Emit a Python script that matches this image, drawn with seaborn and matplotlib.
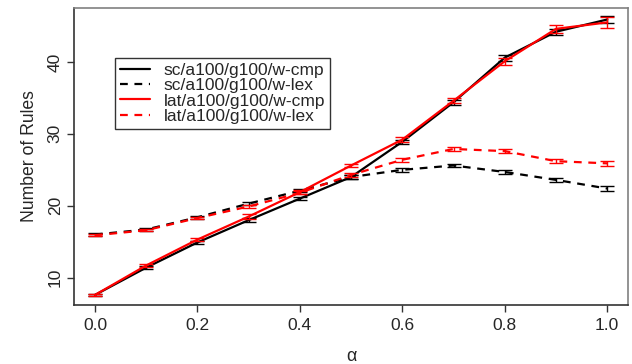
import matplotlib
matplotlib.use("Agg")
import matplotlib.pyplot as plt
import seaborn as sns
import pandas as pd
import numpy as np

alpha = [0.0, 0.1, 0.2, 0.3, 0.4, 0.5, 0.6, 0.7, 0.8, 0.9, 1.0]
sc_cmp = [7.6, 11.4, 14.9, 18.0, 21.0, 24.0, 28.9, 34.4, 40.6, 44.2, 45.9]
sc_lex = [16.0, 16.7, 18.4, 20.3, 22.1, 24.0, 25.0, 25.6, 24.7, 23.6, 22.4]
lat_cmp = [7.6, 11.7, 15.3, 18.5, 21.9, 25.6, 29.2, 34.6, 40.1, 44.6, 45.5]
lat_lex = [15.9, 16.6, 18.3, 19.9, 21.8, 24.3, 26.4, 27.9, 27.6, 26.2, 25.9]
err_sc_cmp = [0.15, 0.2, 0.25, 0.25, 0.25, 0.3, 0.3, 0.35, 0.4, 0.45, 0.55]
err_sc_lex = [0.15, 0.15, 0.2, 0.25, 0.25, 0.25, 0.25, 0.2, 0.25, 0.25, 0.3]
err_lat_cmp = [0.15, 0.25, 0.25, 0.3, 0.25, 0.25, 0.3, 0.35, 0.5, 0.55, 0.8]
err_lat_lex = [0.15, 0.15, 0.2, 0.25, 0.2, 0.25, 0.3, 0.25, 0.3, 0.3, 0.35]
names = ["sc/a100/g100/w-cmp", "sc/a100/g100/w-lex",
         "lat/a100/g100/w-cmp", "lat/a100/g100/w-lex"]
xticks = [0.0, 0.2, 0.4, 0.6, 0.8, 1.0]
yticks = [10, 20, 30, 40]

sns.set_style("white")
plt.rcParams['font.family'] = ['Liberation Sans', 'DejaVu Sans']

series = [sc_cmp, sc_lex, lat_cmp, lat_lex]
errs = [err_sc_cmp, err_sc_lex, err_lat_cmp, err_lat_lex]
colors = ["black", "black", "#ff0000", "#ff0000"]
styles = ["-", (0, (3.5, 3)), "-", (0, (3.5, 3))]

df = pd.DataFrame({
    "alpha": alpha * 4,
    "value": sc_cmp + sc_lex + lat_cmp + lat_lex,
    "series": sum([[n] * len(alpha) for n in names], []),
})

fig = plt.figure(figsize=(6.32, 3.64), dpi=100)
ax = fig.add_axes([0.117, 0.162, 0.877, 0.816])

for n, y, e, c, ls in zip(names, series, errs, colors, styles):
    sub = df[df["series"] == n]
    sns.lineplot(data=sub, x="alpha", y="value", ax=ax, color=c,
                 linestyle=ls, linewidth=1.6, label=n)
    ax.errorbar(alpha, y, yerr=e, fmt="none", ecolor=c, elinewidth=1.0,
                capsize=5, capthick=1.0)

ax.set_xlim(-0.041, 1.041)
ax.set_ylim(6.2, 47.5)
ax.set_xticks(xticks)
ax.set_xticklabels([f"{t:.1f}" for t in xticks], fontsize=12.5)
ax.set_yticks(yticks)
ax.set_yticklabels([str(t) for t in yticks], fontsize=12.5, rotation=90, va="center")
ax.tick_params(axis="both", direction="out", length=5, width=1, color="#333333",
               bottom=True, left=True, pad=4)
ax.tick_params(axis="y", pad=3)
ax.set_xlabel("α", fontsize=13, labelpad=11)
ax.set_ylabel("Number of Rules", fontsize=12.7, labelpad=7)
for s in ["top", "right"]:
    ax.spines[s].set_color("#808080")
    ax.spines[s].set_linewidth(1.2)
for s in ["bottom", "left"]:
    ax.spines[s].set_color("#333333")
    ax.spines[s].set_linewidth(1.2)

leg = ax.legend(loc="upper left", bbox_to_anchor=(0.074, 0.832), fontsize=12.5,
                frameon=True, fancybox=False, edgecolor="black",
                handlelength=1.7, handletextpad=0.8, labelspacing=0.0,
                borderpad=0.3, borderaxespad=0)
leg.get_frame().set_linewidth(1.0)

fig.savefig("out.png", dpi=100)
